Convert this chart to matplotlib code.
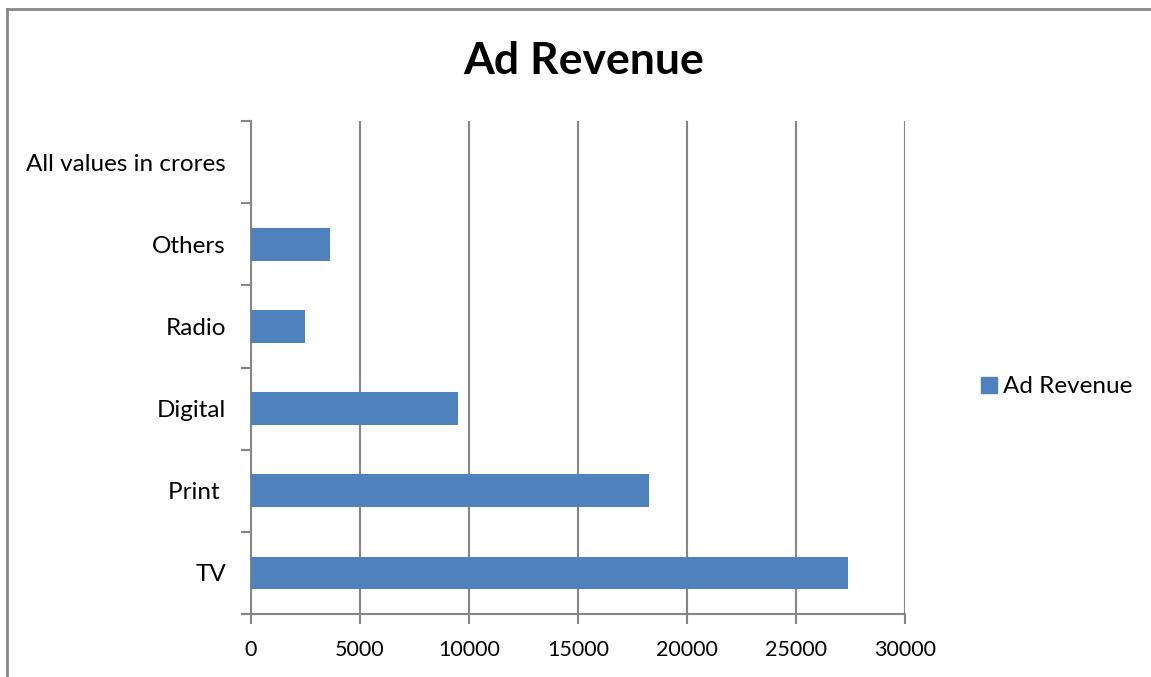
import numpy as np
import matplotlib.pyplot as plt
from matplotlib.lines import Line2D

categories = ['TV', 'Print ', 'Digital', 'Radio', 'Others', 'All values in crores']
revenue = [27400, 18280, 9480, 2470, 3640, np.nan]
xticks = [0, 5000, 10000, 15000, 20000, 25000, 30000]

bar_color = '#4F81BD'
grid_color = '#868686'
plt.rcParams['font.family'] = ['Lato', 'DejaVu Sans']

fig = plt.figure(figsize=(11.51, 6.77), dpi=100)
ax = fig.add_axes([0.218, 0.093, 0.568, 0.728])

pos = np.arange(len(categories))
ax.barh(pos, revenue, height=0.4, color=bar_color, zorder=3)

ax.set_xlim(0, 30000)
ax.set_ylim(-0.5, len(categories) - 0.5)
ax.set_xticks(xticks)
ax.set_xticklabels([str(t) for t in xticks], fontsize=15.5)
ax.tick_params(axis='x', length=7, width=1.5, color=grid_color, pad=12)
ax.grid(axis='x', color=grid_color, linewidth=1.5, zorder=0)

# category boundaries get the tick marks, labels sit in between
ax.set_yticks(np.arange(len(categories) + 1) - 0.5)
ax.set_yticklabels([])
ax.tick_params(axis='y', which='major', length=7, width=1.5, color=grid_color)
ax.set_yticks(pos, minor=True)
ax.set_yticklabels(categories, minor=True, fontsize=17.5)
ax.tick_params(axis='y', which='minor', length=0, pad=18)

for s in ['top', 'right']:
    ax.spines[s].set_visible(False)
for s in ['left', 'bottom']:
    ax.spines[s].set_color(grid_color)
    ax.spines[s].set_linewidth(1.5)

fig.text(0.507, 0.91, 'Ad Revenue', ha='center', va='center',
         fontsize=32, fontweight='bold')

handle = Line2D([], [], marker='s', color=bar_color, linestyle='none', markersize=11)
fig.legend([handle], ['Ad Revenue'], loc='center left', bbox_to_anchor=(0.831, 0.429),
           frameon=False, fontsize=17.5, handletextpad=0.1, handlelength=0.9)

# outer chart frame (top and left edges visible)
fig.add_artist(Line2D([0.006, 0.006], [0, 0.986], color='#888888', linewidth=2,
                      transform=fig.transFigure))
fig.add_artist(Line2D([0.006, 1.0], [0.986, 0.986], color='#888888', linewidth=2,
                      transform=fig.transFigure))

fig.savefig('out.png', dpi=100)
